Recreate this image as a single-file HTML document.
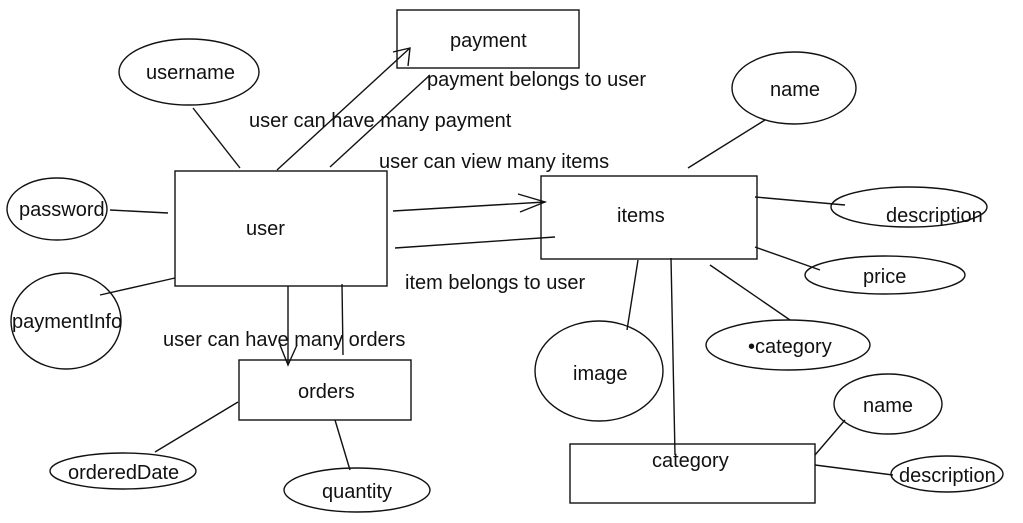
<!DOCTYPE html>
<html><head><meta charset="utf-8"><style>
html,body{margin:0;padding:0;background:#fff;}
svg{display:block;}
text{font-family:"Liberation Sans",sans-serif;font-size:20px;fill:#111;}
</style></head><body>
<svg width="1023" height="523" viewBox="0 0 1023 523" xmlns="http://www.w3.org/2000/svg">
<g fill="none" stroke="#111" stroke-width="1.4">
<rect x="397" y="10" width="182" height="58"/>
<rect x="175" y="171" width="212" height="115"/>
<rect x="541" y="176" width="216" height="83"/>
<rect x="239" y="360" width="172" height="60"/>
<rect x="570" y="444" width="245" height="59"/>
<ellipse cx="189" cy="72" rx="70" ry="33"/>
<ellipse cx="57" cy="209" rx="50" ry="31"/>
<ellipse cx="66" cy="321" rx="55" ry="48"/>
<ellipse cx="794" cy="88" rx="62" ry="36"/>
<ellipse cx="909" cy="207" rx="78" ry="20"/>
<ellipse cx="885" cy="275" rx="80" ry="19"/>
<ellipse cx="788" cy="345" rx="82" ry="25"/>
<ellipse cx="599" cy="371" rx="64" ry="50"/>
<ellipse cx="888" cy="404" rx="54" ry="30"/>
<ellipse cx="947" cy="474" rx="56" ry="18"/>
<ellipse cx="123" cy="471" rx="73" ry="18"/>
<ellipse cx="357" cy="490" rx="73" ry="22"/>
<line x1="193" y1="108" x2="240" y2="168"/>
<line x1="110" y1="210" x2="168" y2="213"/>
<line x1="100" y1="295" x2="175" y2="278"/>
<line x1="277" y1="170" x2="410" y2="48"/>
<polyline points="393,52 410,48 408,66"/>
<line x1="330" y1="167" x2="430" y2="75"/>
<line x1="393" y1="211" x2="545" y2="202"/>
<polyline points="518,194 545,202 520,212"/>
<line x1="395" y1="248" x2="555" y2="237"/>
<line x1="288" y1="286" x2="288" y2="365"/>
<polyline points="280,345 288,365 297,345"/>
<line x1="342" y1="284" x2="343" y2="355"/>
<line x1="238" y1="402" x2="155" y2="452"/>
<line x1="335" y1="420" x2="350" y2="470"/>
<line x1="765" y1="120" x2="688" y2="168"/>
<line x1="755" y1="197" x2="845" y2="205"/>
<line x1="755" y1="247" x2="820" y2="270"/>
<line x1="710" y1="265" x2="790" y2="320"/>
<line x1="638" y1="260" x2="627" y2="330"/>
<line x1="671" y1="258" x2="675" y2="455"/>
<line x1="815" y1="455" x2="845" y2="420"/>
<line x1="815" y1="465" x2="893" y2="475"/>
</g>
<text x="450" y="47">payment</text>
<text x="246" y="235">user</text>
<text x="617" y="222">items</text>
<text x="298" y="398">orders</text>
<text x="652" y="467">category</text>
<text x="146" y="79">username</text>
<text x="19" y="216">password</text>
<text x="12" y="328">paymentInfo</text>
<text x="770" y="96">name</text>
<text x="886" y="222">description</text>
<text x="863" y="283">price</text>
<text x="748" y="353">•category</text>
<text x="573" y="380">image</text>
<text x="863" y="412">name</text>
<text x="899" y="482">description</text>
<text x="68" y="479">orderedDate</text>
<text x="322" y="498">quantity</text>
<text x="249" y="127">user can have many payment</text>
<text x="427" y="86">payment belongs to user</text>
<text x="379" y="168">user can view many items</text>
<text x="405" y="289">item belongs to user</text>
<text x="163" y="346">user can have many orders</text>
</svg>
</body></html>
